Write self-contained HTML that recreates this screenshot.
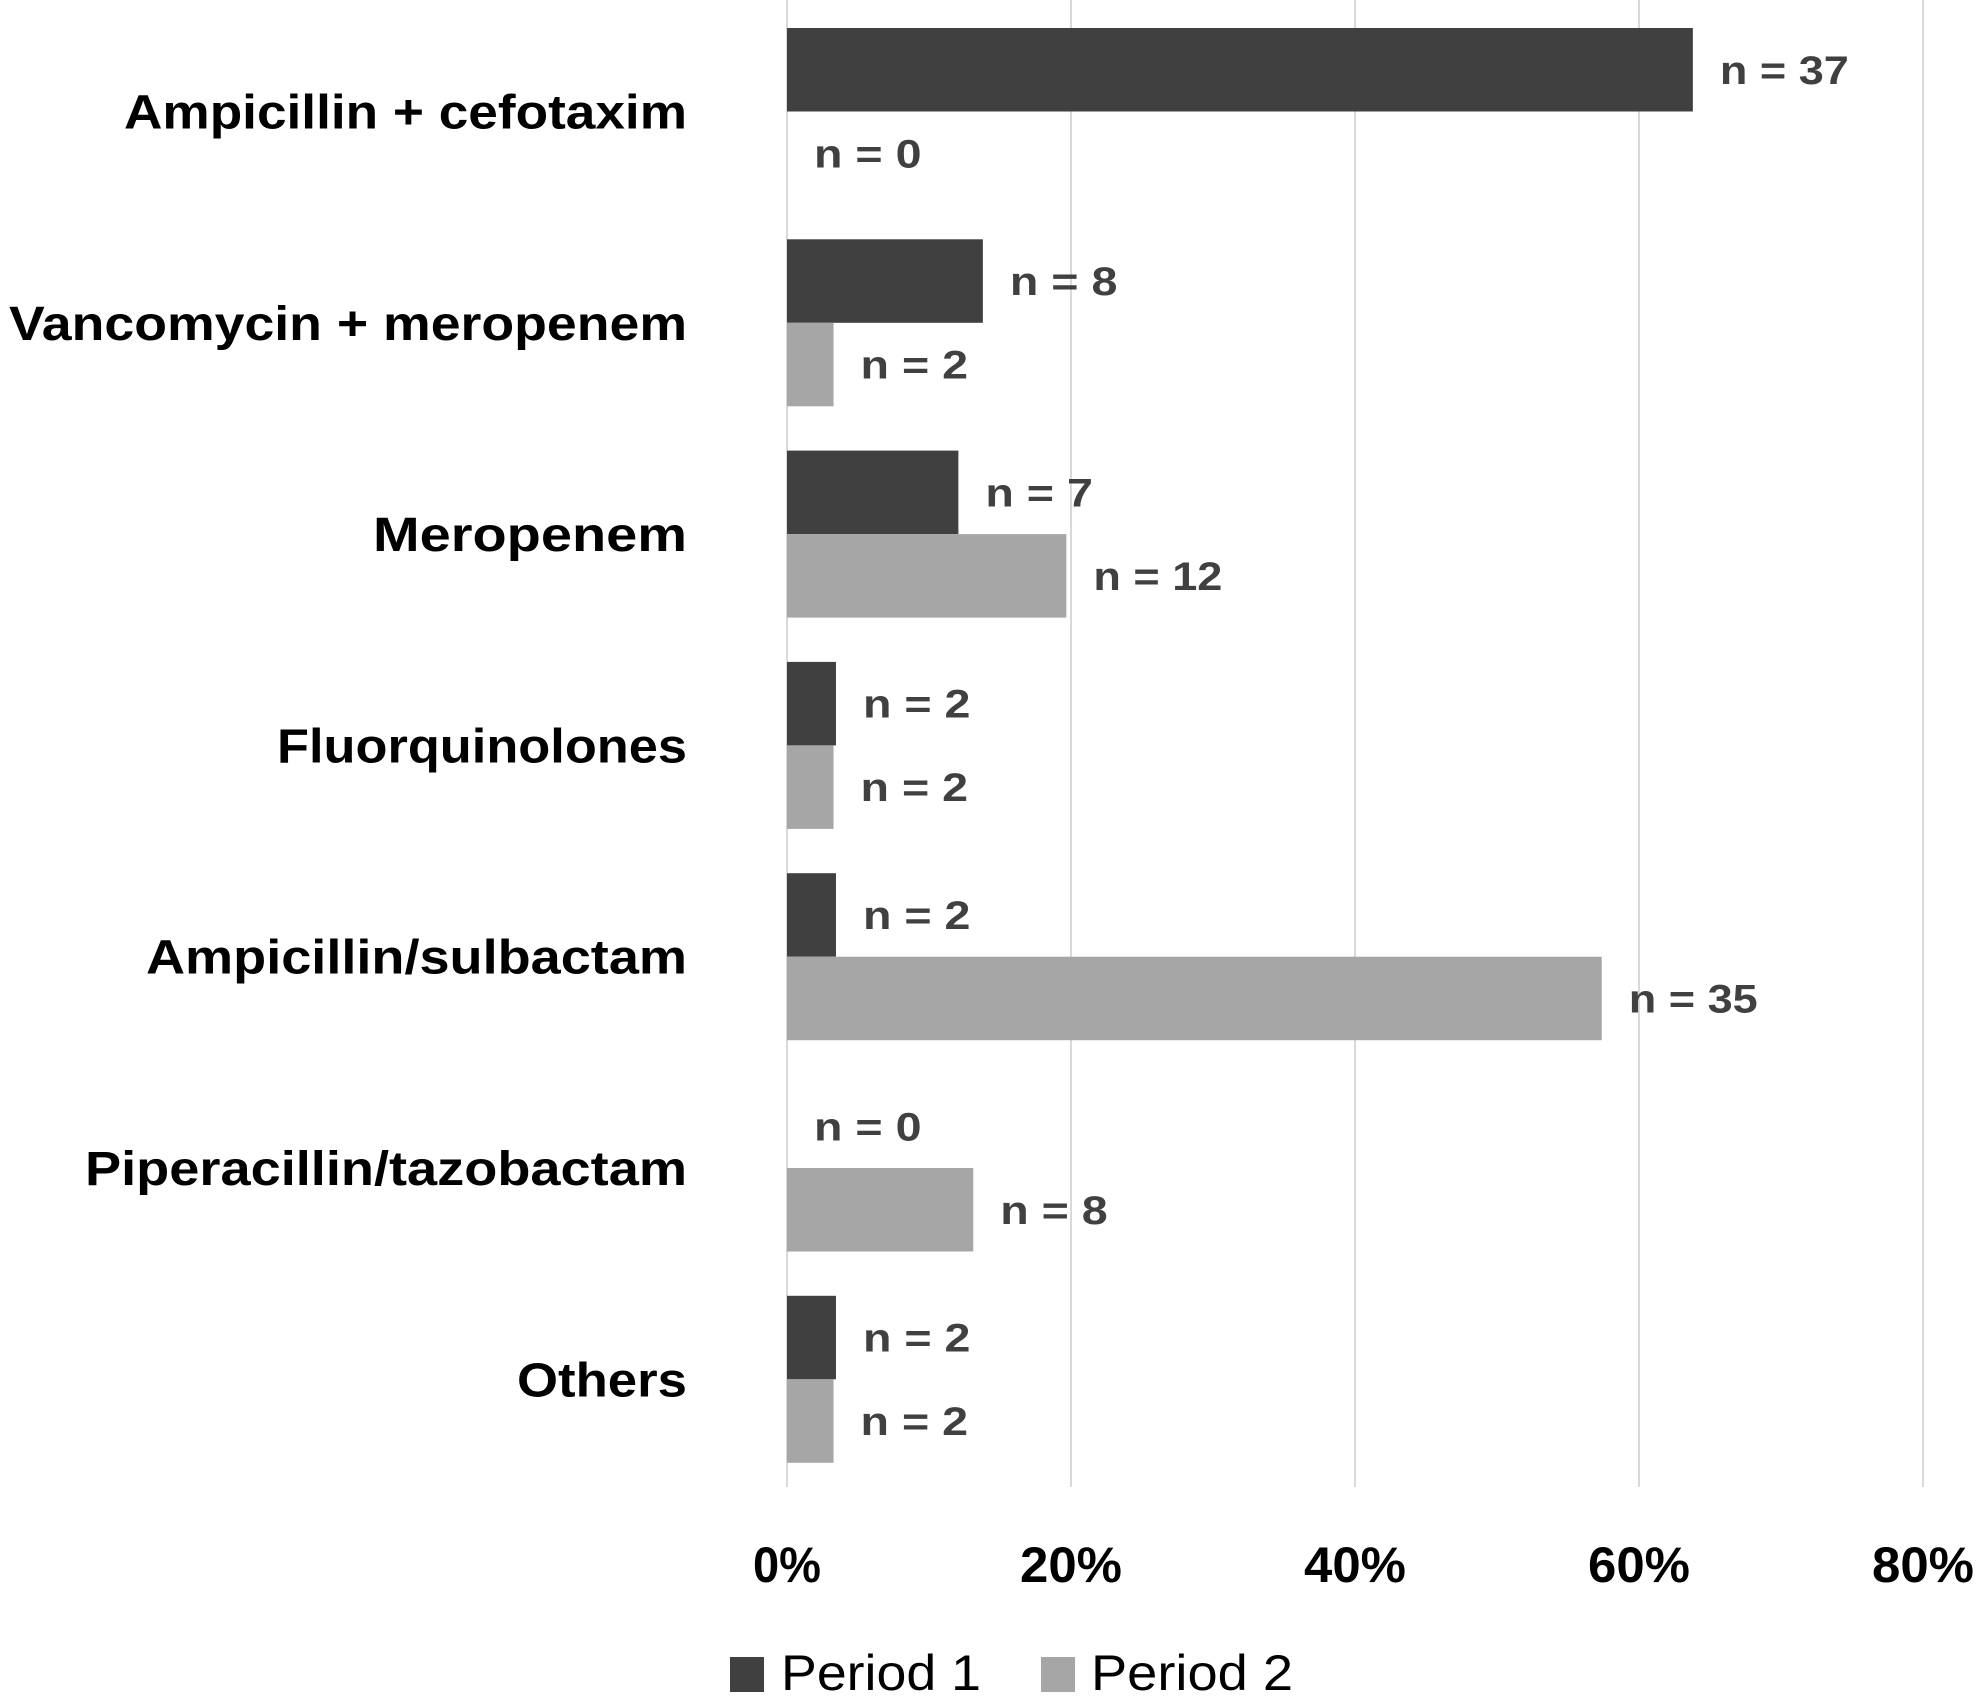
<!DOCTYPE html>
<html><head><meta charset="utf-8"><style>
html,body{margin:0;padding:0;background:#fff;}
svg{display:block;font-family:"Liberation Sans",sans-serif;}
</style></head><body>
<svg id="chart" width="1984" height="1701" viewBox="0 0 1984 1701">
<g id="grid"></g><g id="bars"></g><g id="cats"></g><g id="vals"></g><g id="ticks"></g>
<g>
<rect x="730" y="1657" width="34" height="35" fill="#404040"/>
<text x="781" y="1690" font-size="50" fill="#000" textLength="200" lengthAdjust="spacingAndGlyphs">Period 1</text>
<rect x="1041" y="1657" width="34" height="35" fill="#a6a6a6"/>
<text x="1091" y="1690" font-size="50" fill="#000" textLength="202" lengthAdjust="spacingAndGlyphs">Period 2</text>
</g>
</svg>
<script>
const categories = ["Ampicillin + cefotaxim","Vancomycin + meropenem","Meropenem","Fluorquinolones","Ampicillin/sulbactam","Piperacillin/tazobactam","Others"];
const period1 = [37, 8, 7, 2, 2, 0, 2];
const period2 = [0, 2, 12, 2, 35, 8, 2];
const tickValues = [0, 20, 40, 60, 80];
const tickLabels = ["0%","20%","40%","60%","80%"];
const catWidths = [563, 678, 314, 410, 541, 602, 170];

const NS = "http://www.w3.org/2000/svg";
const x0 = 787, pxPerPct = 284/20;
const top0 = 6, band = 211.3, barH = 83.5;
const x = p => x0 + p * pxPerPct;
const yBand = i => top0 + i * band;
const tot1 = period1.reduce((a,b)=>a+b,0), tot2 = period2.reduce((a,b)=>a+b,0);
function mk(tag, attrs, parent, txt){
  const el = document.createElementNS(NS, tag);
  for (const k in attrs) el.setAttribute(k, attrs[k]);
  if (txt !== undefined) el.textContent = txt;
  document.getElementById(parent).appendChild(el);
  return el;
}
tickValues.forEach((t,i)=>{
  const g = mk("line",{x1:x(t),x2:x(t),y1:0,y2:1487,stroke:"#d9d9d9","stroke-width":2},"grid");
  
  
  const l = mk("text",{x:x(t),y:1582,"text-anchor":"middle","font-size":50,"font-weight":"bold",fill:"#000",textLength:tickLabels[i].length*34,lengthAdjust:"spacingAndGlyphs"},"ticks",tickLabels[i]);
  
  
});
categories.forEach((c,i)=>{
  const yc = yBand(i) + 22 + barH;
  const t = mk("text",{x:687,y:yc+17,"text-anchor":"end","font-size":48,"font-weight":"bold",fill:"#000",textLength:catWidths[i],lengthAdjust:"spacingAndGlyphs"},"cats",c);
  
  
  [[period1,tot1,"#404040",0,"period-1"],[period2,tot2,"#a6a6a6",1,"period-2"]].forEach(([arr,tot,col,k,nm])=>{
    const pct = arr[i]/tot*100;
    const yb = yBand(i) + 22 + k*barH;
    const r = mk("rect",{x:x0,y:yb,width:x(pct)-x0,height:barH,fill:col},"bars");
    
    
    const lbl = "n = " + arr[i];
    const v = mk("text",{x:x(pct)+27,y:yb+barH/2+14,"font-size":40,"font-weight":"bold",fill:"#404040",textLength:lbl.length*21.5,lengthAdjust:"spacingAndGlyphs"},"vals",lbl);
    
    
  });
});
</script>
</body></html>
